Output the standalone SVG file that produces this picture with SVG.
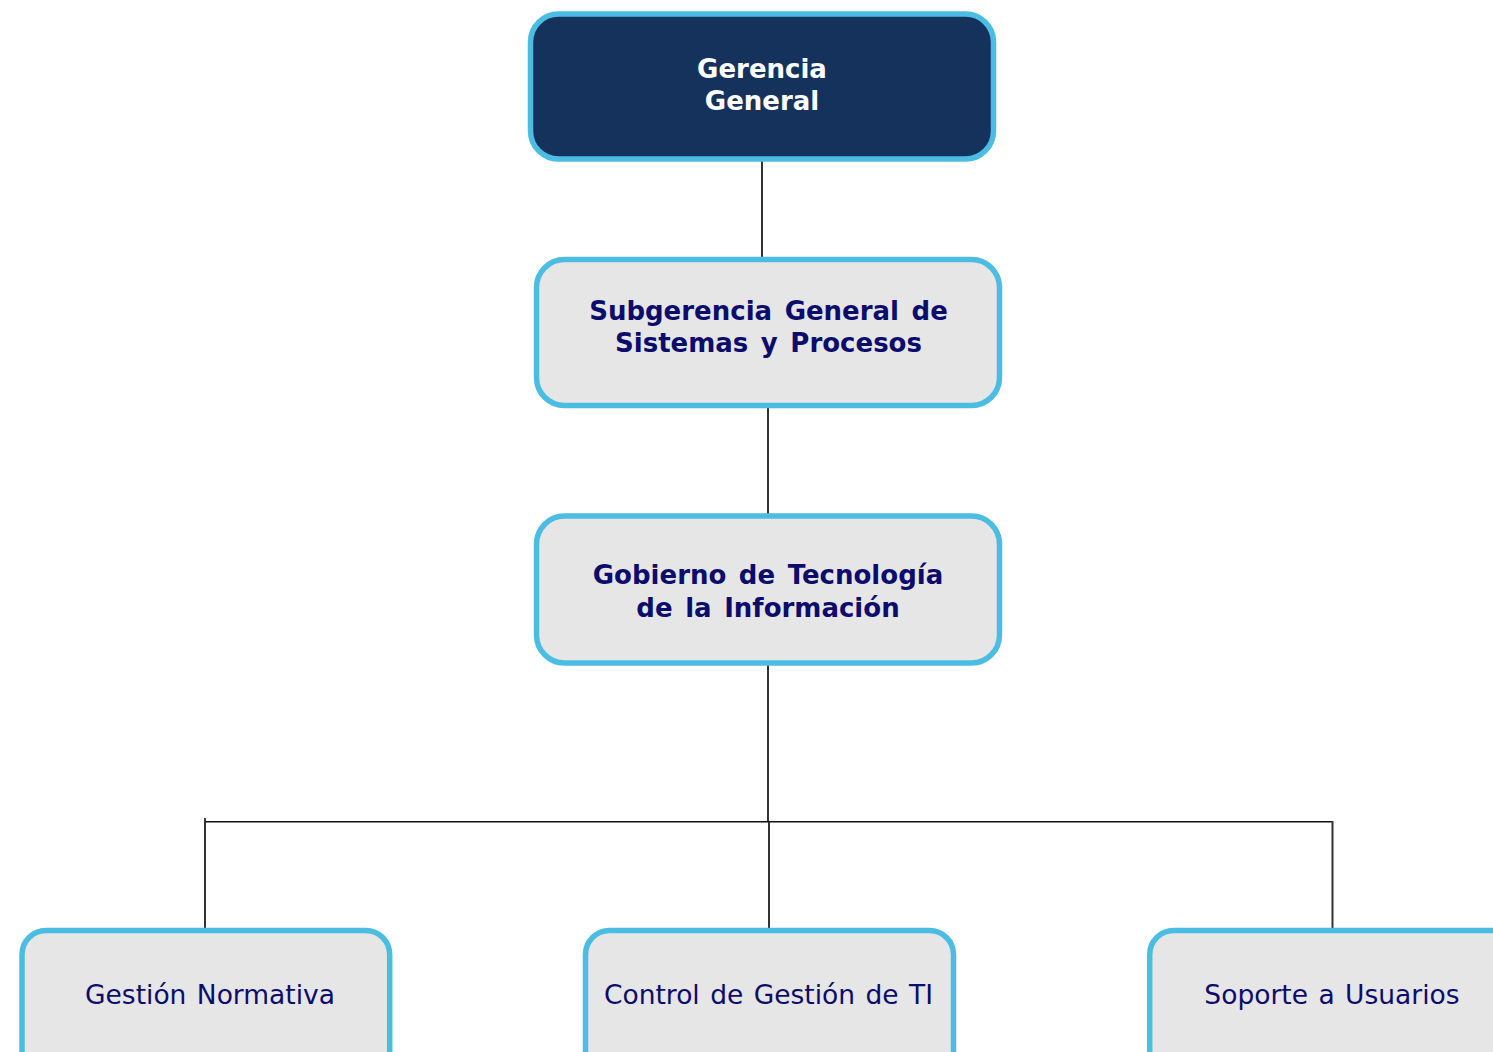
<svg xmlns="http://www.w3.org/2000/svg" width="1493" height="1052" viewBox="0 0 1493 1052">
<style>
.box{stroke:#4BBDE3;stroke-width:5.5}
.dark{fill:#15325D}
.light{fill:#E6E6E6}
.t{font-family:"DejaVu Sans","Verdana",sans-serif;font-size:26px;text-anchor:middle}
.b{font-weight:bold;word-spacing:3.5px}
.w{fill:#FFFFFF}
.n{fill:#0C0C6C}
.r{font-size:26.5px;word-spacing:2px}
.c{stroke:#333333;stroke-width:2;fill:none}
.h{stroke:#111111;stroke-width:1.6;fill:none}
</style>
<rect width="1493" height="1052" fill="#FFFFFF"/>
<g id="connectors">
<line class="c" x1="762" y1="161" x2="762" y2="259"/>
<line class="c" x1="768" y1="408" x2="768" y2="516"/>
<line class="c" x1="768" y1="665" x2="768" y2="822"/>
<line class="h" x1="205" y1="821.7" x2="1332.5" y2="821.7"/>
<line class="c" x1="205" y1="822" x2="205" y2="930"/>
<line class="c" x1="769" y1="822" x2="769" y2="930"/>
<line class="c" x1="1332.5" y1="821" x2="1332.5" y2="930"/>
<line class="h" x1="205" y1="818" x2="205" y2="822"/>
</g>
<g id="gerencia-general">
<rect class="box dark" x="530.5" y="14" width="463" height="145" rx="28" ry="28"/>
<text class="t b w" x="762" y="77.5">Gerencia</text>
<text class="t b w" x="762" y="110">General</text>
</g>
<g id="subgerencia">
<rect class="box light" x="536.5" y="259.5" width="463" height="146" rx="28" ry="28"/>
<text class="t b n" x="768.5" y="320">Subgerencia General de</text>
<text class="t b n" x="768.5" y="352">Sistemas y Procesos</text>
</g>
<g id="gobierno-ti">
<rect class="box light" x="536.5" y="516" width="463" height="147" rx="28" ry="28"/>
<text class="t b n" x="768" y="584">Gobierno de Tecnología</text>
<text class="t b n" x="768" y="616.5">de la Información</text>
</g>
<g id="gestion-normativa">
<rect class="box light" x="22" y="930.5" width="367.7" height="160" rx="24" ry="24"/>
<text class="t r n" x="210" y="1003.5">Gestión Normativa</text>
</g>
<g id="control-gestion-ti">
<rect class="box light" x="585.5" y="930.5" width="368" height="160" rx="24" ry="24"/>
<text class="t r n" x="768.5" y="1003.5">Control de Gestión de TI</text>
</g>
<g id="soporte-usuarios">
<rect class="box light" x="1149.7" y="930.5" width="368" height="160" rx="24" ry="24"/>
<text class="t r n" x="1332" y="1003.5">Soporte a Usuarios</text>
</g>
</svg>
